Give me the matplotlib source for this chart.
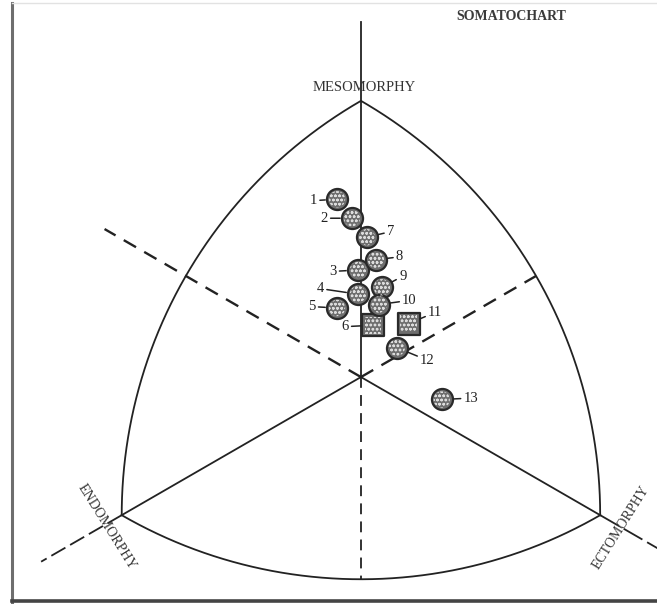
import numpy as np
import matplotlib
matplotlib.use("Agg")
import matplotlib.pyplot as plt
from matplotlib.lines import Line2D

plt.rcParams["font.family"] = ["Liberation Serif", "DejaVu Serif"]
plt.rcParams["hatch.linewidth"] = 0.7

# subjects on the somatochart: X = ecto - endo, Y = 2*meso - (endo + ecto)
subject_ids = ["1", "2", "3", "4", "5", "6", "7", "8", "9", "10", "11", "12", "13"]
chart_x = [-0.8, -0.3, -0.1, -0.1, -0.8, 0.4, 0.2, 0.5, 0.7, 0.6, 1.6, 1.2, 2.7]
chart_y = [10.3, 9.2, 6.2, 4.8, 4.0, 3.0, 8.1, 6.8, 5.2, 4.2, 3.1, 1.7, -1.3]
square_ids = ["6", "11"]

# where each number sits relative to its marker (points)
label_offsets = {
    "1": (-17, -1), "2": (-20, 0), "3": (-18, -1), "4": (-27, 4),
    "5": (-18, 1), "6": (-20, -1), "7": (17, 4), "8": (17, 2),
    "9": (15, 8), "10": (22, 3), "11": (19, 8), "12": (22, -9),
    "13": (21, 1),
}

INK = "#222222"
S3 = np.sqrt(3.0)
VERTEX = 8.0  # rating at each pole

# plot in a frame where the Y axis is compressed by sqrt(3) so the chart is equilateral
meso = np.array([0.0, 2 * VERTEX / S3])
endo = np.array([-VERTEX, -VERTEX / S3])
ecto = np.array([VERTEX, -VERTEX / S3])
side = np.linalg.norm(ecto - endo)
radius = np.linalg.norm(meso)

fig = plt.figure(figsize=(6.57, 6.04), dpi=100)
ax = fig.add_axes([0, 0, 1, 1])
ax.set_xlim(-12.07, 9.90)
ax.set_ylim(-7.59, 12.61)
ax.axis("off")


def arc(center, a0, a1):
    t = np.radians(np.linspace(a0, a1, 200))
    ax.plot(center[0] + side * np.cos(t), center[1] + side * np.sin(t),
            color=INK, lw=1.3, solid_capstyle="round", zorder=2)


# curved sides (each centred on the opposite pole)
arc(meso, -120, -60)
arc(endo, 0, 60)
arc(ecto, 120, 180)


def ray(angle, r0, r1, dashed=False, dashes=(6, 4), lw=1.3):
    a = np.radians(angle)
    line, = ax.plot([r0 * np.cos(a), r1 * np.cos(a)], [r0 * np.sin(a), r1 * np.sin(a)],
                    color=INK, lw=lw, zorder=2)
    if dashed:
        line.set_dashes(dashes)


# spokes to the three poles and their extensions
ray(90, 0, 11.87)
ray(210, 0, radius)
ray(-30, 0, radius)
ray(210, radius, 12.35, dashed=True, dashes=(9, 3))
ray(-30, radius, 12.5, dashed=True, dashes=(12, 3))
# dashed continuations through the centre
ray(-90, 0, side - radius, dashed=True)
ray(150, 0, 9.9, dashed=True, lw=1.7)
ray(30, 0, side - radius, dashed=True, lw=1.7)

# pole names
ax.text(0.1, 9.70, "MESOMORPHY", fontsize=10.5, color="#333333",
        ha="center", va="center")
ax.text(-8.49, -5.02, "ENDOMORPHY", fontsize=10, color="#333333",
        ha="center", va="center", rotation=-58, rotation_mode="anchor")
ax.text(8.70, -5.02, "ECTOMORPHY", fontsize=10, color="#333333",
        ha="center", va="center", rotation=58, rotation_mode="anchor")

# subjects: dark rim with a lighter speckled core
for sid, x, y in zip(subject_ids, chart_x, chart_y):
    py = y / S3
    square = sid in square_ids
    marker = "s" if square else "o"
    size = 240 if square else 230
    ax.scatter([x], [py], s=size, marker=marker, facecolor="#6e6e6e",
               edgecolor="#2a2a2a", linewidths=1.6, zorder=4)
    ax.scatter([x], [py], s=size * 0.6, marker=marker, facecolor="none",
               edgecolor="#dcdcdc", linewidths=0, hatch="oooo", zorder=4.5)
    dx, dy = label_offsets[sid]
    ax.annotate(sid, xy=(x, py), xytext=(dx, dy), textcoords="offset points",
                fontsize=10.5, color=INK, ha="center", va="center", zorder=5,
                arrowprops=dict(arrowstyle="-", color=INK, lw=1.1,
                                shrinkA=0, shrinkB=8.5))

fig.text(456 / 657, 1 - 17 / 604, "SOMATOCHART", fontsize=10, fontweight="bold",
         color="#3a3a3a", ha="left", va="center")

# scanned page border
fig.add_artist(Line2D([12 / 657, 12 / 657], [1 - 602 / 604, 1 - 3 / 604],
                      color="#6e6e6e", lw=2.2))
fig.add_artist(Line2D([12 / 657, 1], [1 - 601 / 604, 1 - 601 / 604],
                      color="#444444", lw=2.6))
fig.add_artist(Line2D([12 / 657, 1], [1 - 3 / 604, 1 - 3 / 604],
                      color="#e2e2e2", lw=1.0))

fig.savefig("out.png", dpi=100, facecolor="white")
